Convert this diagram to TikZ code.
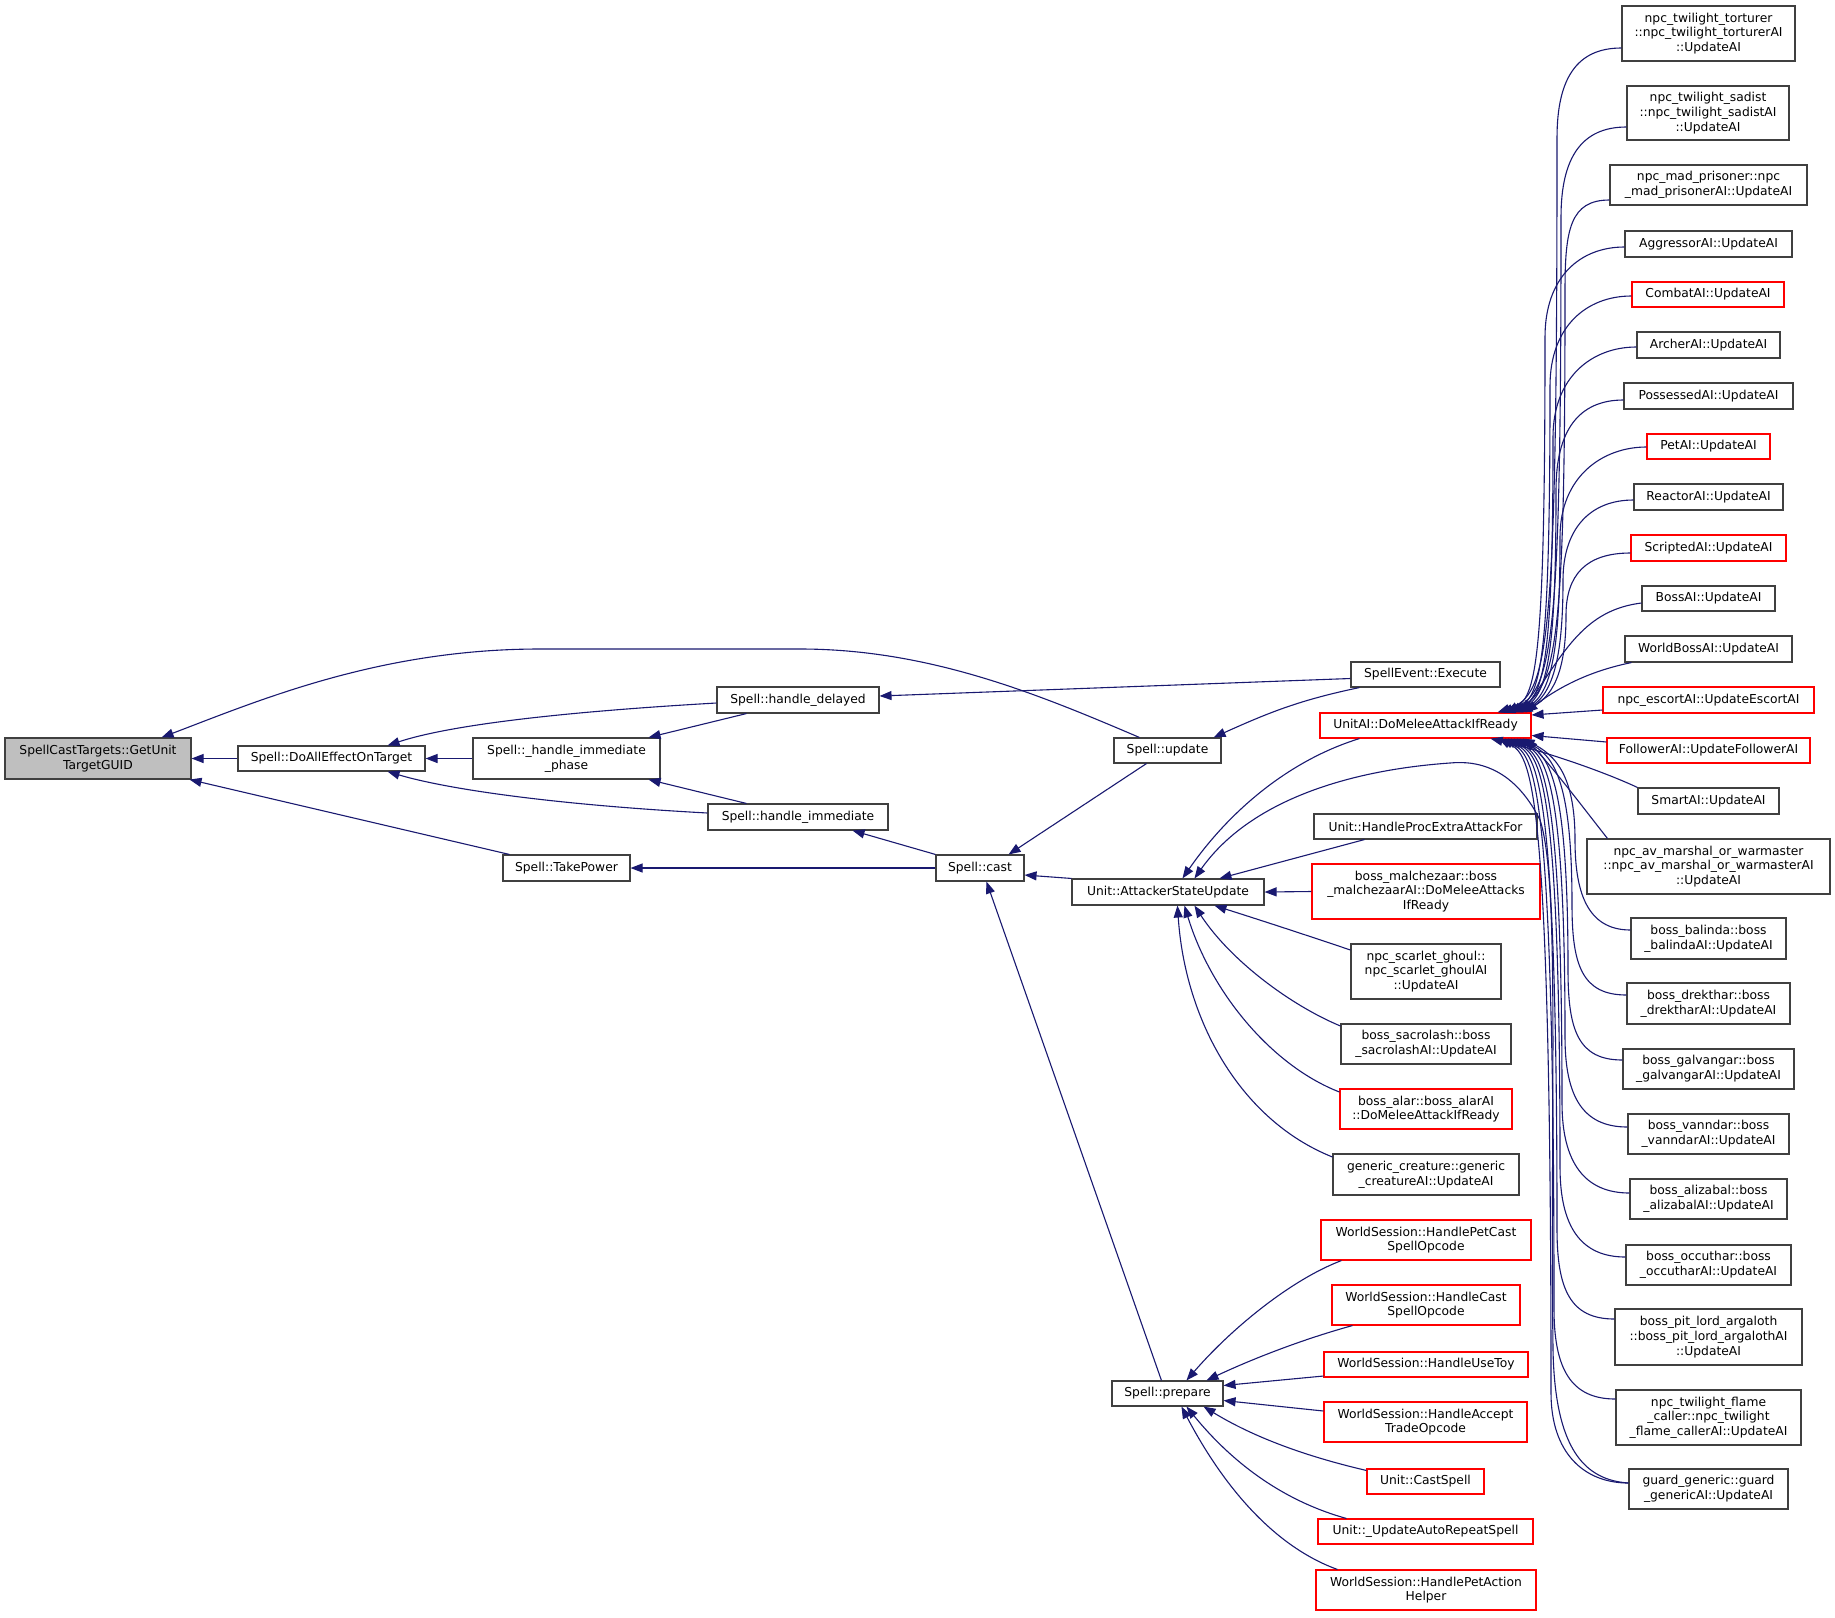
\documentclass[tikz,border=0pt]{standalone}
\usepackage{fontspec}
\setmainfont{DejaVu Sans}
\usetikzlibrary{arrows.meta,calc}
\definecolor{edgeblue}{HTML}{191970}
\definecolor{rootgray}{HTML}{BFBFBF}
\definecolor{boxline}{HTML}{404040}
\newcommand\gfont{\fontsize{12.3}{14.7}\selectfont}
\newcommand\gnode[7]{\node[#6, minimum width={(#4-#2)*1pt}, minimum height={(#5-#3)*1pt}] (#1) at ({(#2+#4)/2},{(#3+#5)/2}) {#7};}
\begin{document}
\begin{tikzpicture}[x=1pt,y=-1pt,
  fn/.style={draw=boxline, line width=1.1pt, fill=white, inner sep=0pt, align=center, font=\gfont},
  fnred/.style={fn, draw=red},
  fnroot/.style={fn, fill=rootgray},
  edge/.style={draw=edgeblue, line width=1.1pt, -{Triangle[length=12pt,width=9pt]}}]
\fill[white] (0,0) rectangle (1835,1617);
\useasboundingbox (0,0) rectangle (1835,1617);

% ---------------- nodes ----------------
\gnode{root}{5}{738}{191}{779}{fnroot}{SpellCastTargets::GetUnit\\TargetGUID}
\gnode{doall}{238}{746}{425}{771}{fn}{Spell::DoAllEffectOnTarget}
\gnode{phase}{473}{738}{660}{779}{fn}{Spell::\_handle\_immediate\\\_phase}
\gnode{delayed}{717}{687}{879}{713}{fn}{Spell::handle\_delayed}
\gnode{immed}{708}{804}{888}{830}{fn}{Spell::handle\_immediate}
\gnode{takep}{503}{855}{630}{881}{fn}{Spell::TakePower}
\gnode{cast}{936}{855}{1024}{881}{fn}{Spell::cast}
\gnode{upd}{1114}{738}{1221}{763}{fn}{Spell::update}
\gnode{exec}{1351}{662}{1500}{687}{fn}{SpellEvent::Execute}
\gnode{melee}{1320}{713}{1531}{738}{fnred}{UnitAI::DoMeleeAttackIfReady}
\gnode{asu}{1072}{879}{1264}{905}{fn}{Unit::AttackerStateUpdate}
\gnode{proc}{1314}{814}{1537}{839}{fn}{Unit::HandleProcExtraAttackFor}
\gnode{malch}{1312}{864}{1540}{919}{fnred}{boss\_malchezaar::boss\\\_malchezaarAI::DoMeleeAttacks\\IfReady}
\gnode{ghoul}{1351}{944}{1501}{999}{fn}{npc\_scarlet\_ghoul::\\npc\_scarlet\_ghoulAI\\::UpdateAI}
\gnode{sacro}{1341}{1024}{1511}{1064}{fn}{boss\_sacrolash::boss\\\_sacrolashAI::UpdateAI}
\gnode{alar}{1340}{1089}{1512}{1129}{fnred}{boss\_alar::boss\_alarAI\\::DoMeleeAttackIfReady}
\gnode{gencr}{1333}{1154}{1519}{1195}{fn}{generic\_creature::generic\\\_creatureAI::UpdateAI}
\gnode{prep}{1112}{1381}{1223}{1406}{fn}{Spell::prepare}
\gnode{petcast}{1321}{1220}{1531}{1260}{fnred}{WorldSession::HandlePetCast\\SpellOpcode}
\gnode{castop}{1332}{1285}{1520}{1325}{fnred}{WorldSession::HandleCast\\SpellOpcode}
\gnode{usetoy}{1324}{1352}{1528}{1377}{fnred}{WorldSession::HandleUseToy}
\gnode{trade}{1324}{1402}{1527}{1442}{fnred}{WorldSession::HandleAccept\\TradeOpcode}
\gnode{ucast}{1367}{1469}{1484}{1494}{fnred}{Unit::CastSpell}
\gnode{autorep}{1318}{1519}{1533}{1544}{fnred}{Unit::\_UpdateAutoRepeatSpell}
\gnode{petact}{1316}{1570}{1536}{1610}{fnred}{WorldSession::HandlePetAction\\Helper}

\gnode{tort}{1622}{6}{1795}{61}{fn}{npc\_twilight\_torturer\\::npc\_twilight\_torturerAI\\::UpdateAI}
\gnode{sadist}{1627}{86}{1789}{140}{fn}{npc\_twilight\_sadist\\::npc\_twilight\_sadistAI\\::UpdateAI}
\gnode{madp}{1610}{165}{1807}{205}{fn}{npc\_mad\_prisoner::npc\\\_mad\_prisonerAI::UpdateAI}
\gnode{aggr}{1625}{231}{1792}{257}{fn}{AggressorAI::UpdateAI}
\gnode{combat}{1632}{282}{1784}{307}{fnred}{CombatAI::UpdateAI}
\gnode{archer}{1637}{332}{1780}{358}{fn}{ArcherAI::UpdateAI}
\gnode{poss}{1624}{383}{1793}{409}{fn}{PossessedAI::UpdateAI}
\gnode{pet}{1647}{434}{1770}{459}{fnred}{PetAI::UpdateAI}
\gnode{react}{1634}{484}{1783}{510}{fn}{ReactorAI::UpdateAI}
\gnode{script}{1631}{535}{1786}{561}{fnred}{ScriptedAI::UpdateAI}
\gnode{boss}{1642}{586}{1775}{611}{fn}{BossAI::UpdateAI}
\gnode{wboss}{1625}{636}{1792}{662}{fn}{WorldBossAI::UpdateAI}
\gnode{escort}{1603}{687}{1814}{713}{fnred}{npc\_escortAI::UpdateEscortAI}
\gnode{follow}{1607}{738}{1810}{763}{fnred}{FollowerAI::UpdateFollowerAI}
\gnode{smart}{1638}{788}{1779}{814}{fn}{SmartAI::UpdateAI}
\gnode{marsh}{1587}{839}{1830}{894}{fn}{npc\_av\_marshal\_or\_warmaster\\::npc\_av\_marshal\_or\_warmasterAI\\::UpdateAI}
\gnode{balinda}{1631}{918}{1786}{959}{fn}{boss\_balinda::boss\\\_balindaAI::UpdateAI}
\gnode{drek}{1627}{983}{1790}{1024}{fn}{boss\_drekthar::boss\\\_drektharAI::UpdateAI}
\gnode{galv}{1623}{1049}{1794}{1089}{fn}{boss\_galvangar::boss\\\_galvangarAI::UpdateAI}
\gnode{vann}{1628}{1114}{1789}{1154}{fn}{boss\_vanndar::boss\\\_vanndarAI::UpdateAI}
\gnode{aliz}{1630}{1179}{1787}{1219}{fn}{boss\_alizabal::boss\\\_alizabalAI::UpdateAI}
\gnode{occu}{1626}{1245}{1791}{1285}{fn}{boss\_occuthar::boss\\\_occutharAI::UpdateAI}
\gnode{pitl}{1615}{1309}{1802}{1365}{fn}{boss\_pit\_lord\_argaloth\\::boss\_pit\_lord\_argalothAI\\::UpdateAI}
\gnode{flame}{1616}{1390}{1801}{1445}{fn}{npc\_twilight\_flame\\\_caller::npc\_twilight\\\_flame\_callerAI::UpdateAI}
\gnode{guard}{1629}{1469}{1788}{1509}{fn}{guard\_generic::guard\\\_genericAI::UpdateAI}

% ---------------- edges: left part ----------------
\draw[edge] (doall.west) -- (root.east);
\draw[edge] ($(upd.north west)+(26,0)$) .. controls (1040,695) and (930,649) .. (800,649) -- (540,649) .. controls (380,649) and (260,700) .. ($(root.north east)+(-30,0)$);
\draw[edge] ($(takep.north west)+(7,0)$) -- ($(root.south east)+(-2,0)$);
\draw[edge] ($(delayed.west)+(0,3)$) .. controls (560,712) and (450,725) .. ($(doall.north east)+(-38,0)$);
\draw[edge] ($(immed.west)+(0,-4)$) .. controls (560,805) and (450,790) .. ($(doall.south east)+(-38,0)$);
\draw[edge] (phase.west) -- (doall.east);
\draw[edge] ($(delayed.south west)+(30,0)$) -- ($(phase.north east)+(-12,0)$);
\draw[edge] ($(immed.north west)+(39,0)$) -- ($(phase.south east)+(-12,0)$);
\draw[edge] ($(exec.west)+(0,4)$) -- ($(delayed.east)+(0,-4)$);
\draw[edge] ($(exec.south west)+(9,0)$) .. controls (1300,700) and (1270,712) .. ($(upd.north east)+(-8,0)$);
\draw[edge] ($(upd.south west)+(33,0)$) -- ($(cast.north east)+(-16,0)$);
\draw[edge] (cast.north west) -- ($(immed.south east)+(-36,0)$);
\draw[edge] (cast.west) -- (takep.east);
\draw[edge] (asu.north west) -- ($(cast.east)+(0,7)$);
\draw[edge] ($(prep.north west)+(50,0)$) -- ($(cast.south west)+(51,0)$);

% ---------------- edges into AttackerStateUpdate ----------------
\draw[edge] ($(melee.south west)+(40,0)$) .. controls (1290,760) and (1230,810) .. ($(asu.north west)+(111,0)$);
\draw[edge] ($(proc.south west)+(51,0)$) -- ($(asu.north west)+(148,0)$);
\draw[edge] (malch.west) -- (asu.east);
\draw[edge] ($(ghoul.west)+(0,-21.5)$) .. controls (1300,933) and (1260,920) .. ($(asu.south west)+(143,0)$);
\draw[edge] ($(sacro.west)+(0,-18)$) .. controls (1290,1005) and (1230,960) .. ($(asu.south west)+(123,0)$);
\draw[edge] ($(alar.west)+(0,-17)$) .. controls (1270,1065) and (1210,990) .. ($(asu.south west)+(113,0)$);
\draw[edge] ($(gencr.west)+(0,-17.5)$) .. controls (1240,1120) and (1185,1020) .. ($(asu.south west)+(106,0)$);
\draw[edge] ($(guard.west)+(0,-6)$) .. controls (1585,1480) and (1555,1450) .. (1553,1350) .. controls (1550,1100) and (1560,880) .. (1540,820) .. controls (1515,770) and (1480,760) .. (1450,763) .. controls (1350,770) and (1250,800) .. ($(asu.north west)+(123,0)$);

% ---------------- edges into Spell::prepare ----------------
\draw[edge] ($(petcast.south west)+(21,0)$) .. controls (1290,1280) and (1230,1330) .. ($(prep.north west)+(75,0)$);
\draw[edge] ($(castop.south west)+(21,0)$) .. controls (1300,1340) and (1250,1360) .. ($(prep.north west)+(95,0)$);
\draw[edge] ($(usetoy.west)+(0,11.5)$) -- ($(prep.east)+(0,-8)$);
\draw[edge] ($(trade.west)+(0,-11)$) -- ($(prep.east)+(0,7)$);
\draw[edge] ($(ucast.north west)+(0,2)$) .. controls (1300,1455) and (1250,1435) .. ($(prep.south east)+(-20,0)$);
\draw[edge] ($(autorep.north west)+(29,0)$) .. controls (1280,1500) and (1230,1460) .. ($(prep.south west)+(75,0)$);
\draw[edge] ($(petact.north west)+(22,0)$) .. controls (1270,1545) and (1220,1480) .. ($(prep.south west)+(70,0)$);

% ---------------- edges into UnitAI::DoMeleeAttackIfReady (upper) ----------------
\draw[edge] ($(tort.west)+(0,14.5)$) .. controls (1577,48) and (1557,78) .. (1557,138) .. controls (1557,650) and (1549,695) .. ($(melee.north east)+(-34,0)$);
\draw[edge] ($(sadist.west)+(0,14)$) .. controls (1582,127) and (1561,157) .. (1561,217) .. controls (1561,650) and (1553,695) .. ($(melee.north east)+(-31,0)$);
\draw[edge] ($(madp.west)+(0,15)$) .. controls (1570,200) and (1565,230) .. (1565,290) .. controls (1565,650) and (1557,695) .. ($(melee.north east)+(-28,0)$);
\draw[edge] ($(aggr.west)+(0,3)$) .. controls (1580,247) and (1545,277) .. (1545,337) .. controls (1545,650) and (1537,695) .. ($(melee.north east)+(-25,0)$);
\draw[edge] ($(combat.west)+(0,1.5)$) .. controls (1587,296) and (1550,326) .. (1550,386) .. controls (1550,650) and (1542,695) .. ($(melee.north east)+(-22,0)$);
\draw[edge] ($(archer.west)+(0,2)$) .. controls (1592,347) and (1553,377) .. (1553,437) .. controls (1553,650) and (1545,695) .. ($(melee.north east)+(-19,0)$);
\draw[edge] ($(poss.west)+(0,4)$) .. controls (1579,400) and (1556,430) .. (1556,490) .. controls (1556,650) and (1548,695) .. ($(melee.north east)+(-17,0)$);
\draw[edge] ($(pet.west)+(0,0.5)$) .. controls (1602,447) and (1560,477) .. (1560,537) .. controls (1560,650) and (1552,695) .. ($(melee.north east)+(-15,0)$);
\draw[edge] ($(react.west)+(0,3)$) .. controls (1589,500) and (1563,530) .. (1563,580) .. controls (1563,650) and (1555,695) .. ($(melee.north east)+(-13,0)$);
\draw[edge] ($(script.west)+(0,5)$) .. controls (1586,553) and (1566,575) .. (1566,615) .. controls (1566,660) and (1558,695) .. ($(melee.north east)+(-11,0)$);
\draw[edge] ($(boss.west)+(0,4.5)$) .. controls (1585,610) and (1565,650) .. ($(melee.north east)+(-9,0)$);
\draw[edge] ($(wboss.south west)+(7,0)$) .. controls (1585,672) and (1555,690) .. ($(melee.north east)+(-6,0)$);
\draw[edge] ($(escort.west)+(0,10)$) -- ($(melee.east)+(0,-10.5)$);
\draw[edge] ($(follow.west)+(0,-8.5)$) -- ($(melee.east)+(0,10)$);
\draw[edge] (smart.north west) .. controls (1600,770) and (1540,750) .. ($(melee.south east)+(-41,0)$);

% ---------------- edges into UnitAI::DoMeleeAttackIfReady (lower) ----------------
\draw[edge] ($(marsh.north west)+(21,0)$) .. controls (1585,810) and (1555,770) .. ($(melee.south east)+(-6,0)$);
\draw[edge] ($(balinda.west)+(0,-8.5)$) .. controls (1586,930) and (1575,890) .. (1575,840) .. controls (1575,775) and (1555,755) .. ($(melee.south east)+(-9,0)$);
\draw[edge] ($(drek.west)+(0,-8.5)$) .. controls (1582,995) and (1572,965) .. (1572,905) .. controls (1572,775) and (1552,755) .. ($(melee.south east)+(-12,0)$);
\draw[edge] ($(galv.west)+(0,-9)$) .. controls (1578,1060) and (1568,1030) .. (1568,970) .. controls (1568,775) and (1548,755) .. ($(melee.south east)+(-15,0)$);
\draw[edge] ($(vann.west)+(0,-7)$) .. controls (1583,1127) and (1565,1097) .. (1565,1037) .. controls (1565,775) and (1545,755) .. ($(melee.south east)+(-18,0)$);
\draw[edge] ($(aliz.west)+(0,-6)$) .. controls (1585,1193) and (1562,1163) .. (1562,1103) .. controls (1562,775) and (1542,755) .. ($(melee.south east)+(-21,0)$);
\draw[edge] ($(occu.west)+(0,-8)$) .. controls (1581,1257) and (1560,1227) .. (1560,1167) .. controls (1560,775) and (1540,755) .. ($(melee.south east)+(-24,0)$);
\draw[edge] ($(pitl.west)+(0,-18)$) .. controls (1570,1319) and (1557,1289) .. (1557,1229) .. controls (1557,775) and (1537,755) .. ($(melee.south east)+(-27,0)$);
\draw[edge] ($(flame.west)+(0,-18.5)$) .. controls (1571,1399) and (1554,1369) .. (1554,1309) .. controls (1554,775) and (1534,755) .. ($(melee.south east)+(-30,0)$);
\draw[edge] ($(guard.west)+(0,-6)$) .. controls (1584,1483) and (1551,1453) .. (1551,1393) .. controls (1551,775) and (1531,755) .. ($(melee.south east)+(-33,0)$);
\end{tikzpicture}
\end{document}
